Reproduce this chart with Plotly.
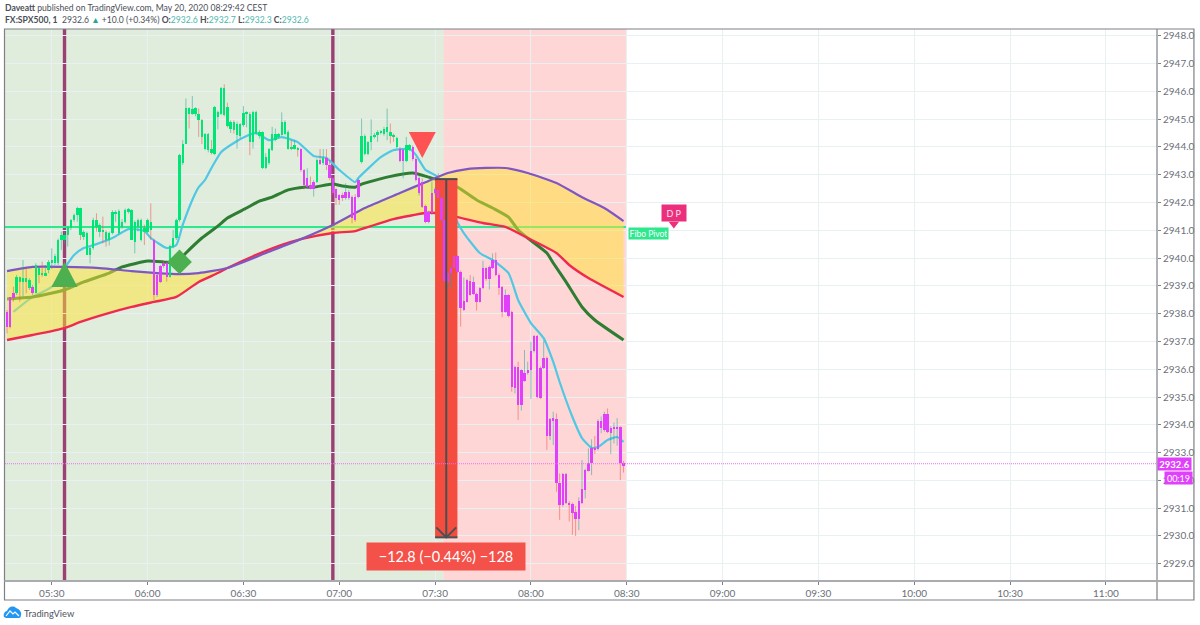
import pandas as pd
import plotly.graph_objects as go

# candle values, one minute per entry starting at 05:16
body_top = [
    2938.07, 2938.59, 2938.73, 2939.33, 2939.33, 2939.27, 2939.27, 2939.21, 2938.97, 2939.75,
    2939.63, 2939.45, 2939.45, 2939.87, 2939.93, 2940.07, 2940.65, 2940.83, 2940.83, 2941.13,
    2941.37, 2941.55, 2941.81, 2941.79, 2940.95, 2940.91, 2940.35, 2941.37, 2941.37, 2941.19,
    2940.98, 2940.95, 2940.89, 2941.67, 2941.67, 2941.70, 2941.31, 2941.73, 2941.75, 2941.73,
    2941.31, 2941.37, 2941.37, 2941.07, 2941.37, 2941.31, 2940.65, 2939.39, 2939.71, 2939.83,
    2939.81, 2940.43, 2940.71, 2941.37, 2943.70, 2944.12, 2945.38, 2945.38, 2945.35, 2945.38,
    2945.20, 2944.96, 2944.46, 2944.46, 2943.91, 2945.42, 2945.26, 2946.10, 2946.10, 2945.42,
    2944.90, 2944.90, 2944.84, 2944.81, 2945.23, 2945.23, 2945.20, 2945.26, 2945.26, 2944.54,
    2944.52, 2943.62, 2943.91, 2944.48, 2944.46, 2944.46, 2944.90, 2944.90, 2944.54, 2944.00,
    2944.06, 2943.94, 2943.91, 2943.17, 2942.87, 2942.63, 2942.75, 2943.53, 2943.53, 2943.61,
    2943.59, 2943.35, 2942.87, 2942.47, 2942.27, 2942.27, 2942.39, 2942.39, 2942.21, 2942.21,
    2942.81, 2944.39, 2944.39, 2944.18, 2944.39, 2944.42, 2944.54, 2944.54, 2944.66, 2944.72,
    2944.54, 2944.42, 2944.33, 2943.94, 2943.88, 2944.06, 2944.06, 2943.98, 2943.58, 2942.87,
    2942.75, 2941.87, 2941.64, 2942.33, 2942.47, 2942.45, 2942.15, 2941.37, 2939.45, 2939.63,
    2940.07, 2940.07, 2939.51, 2938.45, 2939.21, 2939.18, 2939.15, 2938.71, 2938.91, 2939.63,
    2939.63, 2939.69, 2939.93, 2939.93, 2939.39, 2938.97, 2938.67, 2938.67, 2938.07, 2936.09,
    2936.09, 2935.97, 2935.85, 2935.97, 2936.67, 2937.19, 2937.19, 2936.06, 2936.41, 2936.41,
    2934.20, 2934.24, 2934.21, 2931.89, 2932.23, 2932.23, 2931.20, 2931.15, 2930.85, 2931.27,
    2931.68, 2932.38, 2932.61, 2933.15, 2933.15, 2934.15, 2934.15, 2934.39, 2934.39, 2933.90,
    2933.90, 2933.91, 2933.91, 2932.61,
]
body_bottom = [
    2937.53, 2937.53, 2938.55, 2938.73, 2939.15, 2939.15, 2939.15, 2938.91, 2938.73, 2938.73,
    2939.39, 2939.39, 2939.35, 2939.57, 2939.81, 2939.81, 2939.81, 2940.65, 2940.65, 2940.83,
    2941.07, 2941.37, 2941.55, 2940.83, 2940.77, 2940.11, 2940.11, 2940.35, 2941.13, 2940.95,
    2940.95, 2940.65, 2940.65, 2940.91, 2941.61, 2940.91, 2941.13, 2941.31, 2941.67, 2940.65,
    2940.59, 2941.13, 2940.65, 2940.95, 2940.95, 2941.01, 2938.67, 2938.67, 2939.15, 2939.71,
    2939.33, 2939.30, 2940.41, 2940.71, 2941.37, 2943.41, 2944.12, 2945.20, 2945.20, 2945.20,
    2944.96, 2944.36, 2943.94, 2943.88, 2943.77, 2943.73, 2945.08, 2945.20, 2945.14, 2944.75,
    2944.66, 2944.60, 2944.42, 2944.39, 2944.78, 2945.20, 2944.18, 2944.18, 2944.48, 2944.39,
    2943.23, 2943.23, 2943.41, 2943.88, 2944.24, 2944.36, 2944.42, 2944.48, 2943.94, 2943.94,
    2943.94, 2943.90, 2943.17, 2942.63, 2942.57, 2942.47, 2942.47, 2942.75, 2943.37, 2943.41,
    2943.35, 2942.87, 2942.33, 2942.15, 2942.09, 2942.15, 2942.15, 2942.15, 2941.43, 2941.37,
    2942.21, 2943.47, 2943.76, 2943.76, 2944.18, 2944.36, 2944.42, 2944.51, 2944.48, 2944.54,
    2944.39, 2944.36, 2944.00, 2943.50, 2943.50, 2943.50, 2943.88, 2943.58, 2942.81, 2942.33,
    2941.85, 2941.31, 2941.31, 2941.61, 2942.33, 2942.15, 2941.37, 2939.17, 2939.15, 2939.45,
    2939.63, 2939.51, 2938.19, 2938.13, 2938.43, 2938.67, 2938.71, 2938.43, 2938.43, 2938.91,
    2939.23, 2939.23, 2939.63, 2939.39, 2938.91, 2938.07, 2938.07, 2937.91, 2935.37, 2935.31,
    2934.71, 2934.71, 2935.58, 2935.85, 2935.97, 2936.65, 2935.01, 2934.98, 2936.03, 2933.60,
    2933.60, 2934.17, 2931.89, 2931.11, 2931.11, 2931.18, 2931.11, 2930.82, 2930.60, 2930.60,
    2931.18, 2931.65, 2932.35, 2932.61, 2933.12, 2933.12, 2933.87, 2933.81, 2933.75, 2933.72,
    2933.87, 2933.87, 2932.61, 2932.55,
]
highs = [
    2938.13, 2938.59, 2938.97, 2939.39, 2939.33, 2939.93, 2939.63, 2939.27, 2939.03, 2939.81,
    2939.63, 2939.87, 2939.75, 2939.93, 2940.35, 2940.15, 2940.70, 2940.95, 2940.95, 2941.15,
    2941.40, 2941.60, 2941.85, 2941.81, 2941.00, 2940.95, 2940.40, 2941.45, 2941.61, 2941.25,
    2941.49, 2941.00, 2940.95, 2941.72, 2941.72, 2941.75, 2941.40, 2941.78, 2941.80, 2941.75,
    2941.35, 2941.42, 2941.42, 2941.20, 2941.42, 2941.97, 2940.70, 2939.45, 2939.75, 2939.90,
    2939.85, 2940.48, 2941.01, 2941.42, 2943.75, 2944.24, 2945.74, 2945.42, 2945.83, 2945.42,
    2945.38, 2945.00, 2944.50, 2944.50, 2944.24, 2945.47, 2945.30, 2946.15, 2946.25, 2945.59,
    2944.95, 2944.95, 2944.90, 2944.85, 2945.47, 2945.28, 2945.25, 2945.30, 2945.30, 2944.60,
    2944.55, 2943.77, 2943.95, 2944.72, 2944.66, 2944.50, 2945.24, 2944.95, 2944.60, 2944.24,
    2944.24, 2944.00, 2943.95, 2943.20, 2943.23, 2942.93, 2942.80, 2943.58, 2943.92, 2943.92,
    2943.92, 2943.53, 2942.90, 2942.50, 2942.30, 2942.35, 2942.69, 2942.45, 2942.25, 2942.30,
    2942.85, 2945.02, 2944.45, 2944.20, 2944.99, 2944.50, 2944.60, 2944.60, 2944.72, 2945.38,
    2944.84, 2944.48, 2944.36, 2944.00, 2943.94, 2944.36, 2944.10, 2944.05, 2943.62, 2942.95,
    2942.87, 2941.92, 2941.70, 2942.75, 2942.55, 2943.05, 2942.20, 2941.40, 2939.50, 2939.70,
    2940.10, 2940.10, 2939.55, 2939.30, 2939.25, 2939.39, 2939.33, 2938.75, 2938.95, 2939.90,
    2939.67, 2939.73, 2940.17, 2940.20, 2939.45, 2939.00, 2938.87, 2938.70, 2938.10, 2936.13,
    2936.27, 2936.00, 2936.69, 2936.27, 2936.99, 2937.23, 2937.23, 2936.10, 2937.03, 2936.45,
    2934.24, 2934.47, 2934.41, 2932.25, 2932.27, 2932.27, 2931.25, 2931.20, 2931.08, 2931.39,
    2932.73, 2932.42, 2933.15, 2933.48, 2933.60, 2934.20, 2934.30, 2934.47, 2934.59, 2933.95,
    2934.08, 2934.24, 2933.95, 2932.70,
]
lows = [
    2937.29, 2937.47, 2938.43, 2938.67, 2938.43, 2938.61, 2938.73, 2938.85, 2938.67, 2938.73,
    2939.09, 2939.33, 2939.35, 2939.45, 2939.60, 2939.75, 2939.75, 2940.29, 2940.50, 2940.41,
    2941.00, 2941.30, 2941.31, 2940.65, 2940.65, 2940.11, 2939.81, 2940.30, 2940.95, 2940.75,
    2940.53, 2940.41, 2940.45, 2940.85, 2941.30, 2940.85, 2941.05, 2941.25, 2941.60, 2940.65,
    2940.17, 2940.95, 2940.60, 2940.47, 2940.90, 2940.65, 2938.49, 2938.60, 2939.10, 2939.65,
    2939.15, 2939.30, 2940.35, 2940.65, 2941.30, 2943.35, 2944.10, 2944.66, 2945.15, 2945.10,
    2944.36, 2944.10, 2943.88, 2943.80, 2943.72, 2943.70, 2944.63, 2945.15, 2945.10, 2944.70,
    2944.50, 2944.48, 2943.94, 2944.30, 2944.72, 2944.70, 2943.70, 2943.94, 2944.42, 2944.30,
    2943.20, 2943.20, 2943.35, 2943.85, 2944.20, 2944.30, 2944.40, 2944.42, 2943.90, 2943.88,
    2943.90, 2943.65, 2943.10, 2942.47, 2942.50, 2942.47, 2942.21, 2942.70, 2943.35, 2943.35,
    2943.17, 2942.80, 2942.27, 2941.91, 2941.91, 2942.05, 2942.10, 2942.10, 2941.25, 2941.30,
    2942.15, 2943.40, 2943.70, 2943.70, 2943.88, 2944.30, 2944.18, 2944.45, 2944.40, 2944.24,
    2944.12, 2944.18, 2943.95, 2943.45, 2942.87, 2943.45, 2943.85, 2943.50, 2942.75, 2942.25,
    2941.80, 2941.25, 2941.25, 2941.55, 2942.25, 2942.10, 2941.30, 2939.10, 2938.91, 2938.91,
    2939.60, 2939.45, 2937.53, 2938.10, 2938.40, 2938.65, 2938.67, 2938.11, 2938.40, 2938.88,
    2939.18, 2938.87, 2939.60, 2939.35, 2938.67, 2937.87, 2938.03, 2937.87, 2935.19, 2935.13,
    2934.17, 2934.51, 2935.55, 2935.80, 2934.93, 2936.60, 2934.95, 2934.93, 2936.00, 2933.10,
    2933.45, 2933.27, 2931.59, 2930.58, 2931.05, 2931.15, 2930.52, 2930.04, 2930.00, 2930.21,
    2931.15, 2931.35, 2932.32, 2932.19, 2932.95, 2933.08, 2933.70, 2933.75, 2933.70, 2932.95,
    2933.33, 2933.25, 2932.01, 2932.28,
]
# T = teal wick (real up candle), R = red wick (real down candle)
wick_dirs = (
    "RRRTRTRTTT" "RRTTTTTTTT" "TTTRTTTTRT" "RRTTTTTTTT" "TTTRTRRTTR"
    "RTTTTTTRTT" "RRTTRTTTRR" "TRTTTTRTTT" "TTTTTTTTTR" "TRRRTRTTRT"
    "RRRRRRTTRR" "TTTTTTTTTT" "RRTRTTTRRT" "RRTTTRTRTT" "TRRTTRTRTT"
    "RTTRRRTRRT" "RTTTTTRRTR" "TTRRTTRRRT" "TTTTRTTTRT" "TTRR"
)
# g = green body, m = magenta body
body_states = (
    "mmmgggggmg" "gggggggggg" "gggggggggg" "gggggggggg" "ggggggmmmm"
    "mggggggggg" "gggggggggg" "gggggggggg" "gggggggggg" "ggmmmmmgmg"
    "mmmmmmmmmm" "mggggggggg" "gggmmggmmm" "mmmmmmmmmm" "mmmmmmmmmm"
    "mmmmmmmmmm" "mmmmmmmmmm" "mmmmmmmmmm" "mmmmmmmmmm" "mmmm"
)

# indicator lines, read at these candle numbers
blue_idx = [2, 8, 14, 18, 21, 24, 28, 33, 38, 43, 45, 50, 53, 55, 58, 60, 62, 64, 67, 71, 75, 78, 82, 86,
            91, 96, 100, 104, 109, 110, 117, 121, 126, 128, 131, 135, 141, 143, 148, 152, 157, 160, 164,
            168, 171, 173, 177, 180, 183, 185, 188, 191, 193]
blue_vals = [2938.06, 2938.60, 2938.96, 2939.64, 2940.11, 2940.36, 2940.50, 2940.72, 2941.04, 2940.97,
             2940.72, 2940.36, 2940.47, 2941.19, 2942.09, 2942.55, 2942.81, 2943.24, 2943.81, 2944.14,
             2944.39, 2944.50, 2944.24, 2944.35, 2944.17, 2943.67, 2943.60, 2943.17, 2942.73, 2942.88,
             2943.63, 2943.88, 2943.92, 2943.71, 2943.17, 2942.91, 2941.29, 2940.90, 2940.18, 2939.93,
             2939.46, 2938.49, 2937.66, 2937.12, 2936.26, 2935.54, 2934.28, 2933.52, 2933.17, 2933.20,
             2933.45, 2933.56, 2933.38]
dark_green_idx = [0, 8, 18, 24, 32, 36, 44, 49, 53, 56, 61, 66, 69, 75, 79, 83, 88, 93, 96, 102, 105, 109,
                  111, 119, 127, 132, 141, 147, 152, 157, 160, 163, 169, 171, 175, 180, 184, 193]
dark_green_vals = [2938.53, 2938.60, 2938.85, 2939.14, 2939.46, 2939.68, 2939.89, 2939.86, 2939.82, 2940.18,
                   2940.72, 2941.15, 2941.44, 2941.80, 2942.05, 2942.19, 2942.45, 2942.55, 2942.55, 2942.66,
                   2942.59, 2942.55, 2942.66, 2942.91, 2943.06, 2942.91, 2942.55, 2942.09, 2941.80, 2941.47,
                   2941.01, 2940.72, 2940.18, 2939.82, 2939.14, 2938.24, 2937.77, 2937.05]
red_idx = [0, 8, 18, 23, 31, 39, 46, 53, 60, 66, 69, 78, 86, 92, 102, 109, 112, 121, 131, 134, 141, 149,
           156, 163, 172, 176, 182, 193]
red_vals = [2937.05, 2937.23, 2937.48, 2937.70, 2937.99, 2938.24, 2938.42, 2938.60, 2939.14, 2939.46,
            2939.64, 2940.11, 2940.47, 2940.68, 2940.90, 2940.97, 2941.08, 2941.40, 2941.62, 2941.62,
            2941.47, 2941.26, 2941.12, 2940.72, 2940.18, 2939.75, 2939.28, 2938.60]
purple_idx = [0, 8, 18, 29, 39, 47, 54, 60, 69, 81, 92, 102, 112, 123, 131, 138, 144, 150, 156, 163, 172,
              180, 187, 193]
purple_vals = [2939.53, 2939.68, 2939.68, 2939.64, 2939.53, 2939.46, 2939.42, 2939.46, 2939.64, 2940.18,
               2940.68, 2941.19, 2941.80, 2942.34, 2942.73, 2943.06, 2943.20, 2943.24, 2943.24, 2943.06,
               2942.70, 2942.19, 2941.80, 2941.33]

start_time = "2020-05-20 05:16"
x_start = "2020-05-20 05:15:22"
x_end = "2020-05-20 11:16:00"
green_zone_end = "2020-05-20 07:32:40"
pink_zone_end = "2020-05-20 08:29:45"
signal_lines = ["2020-05-20 05:34", "2020-05-20 06:58"]
fibo_pivot = 2941.12
last_price = 2932.6
measure_start = "2020-05-20 07:30"
measure_end = "2020-05-20 07:37"
measure_mid = "2020-05-20 07:33:30"
measure_top = 2942.84
measure_bottom = 2929.95

GREEN = "#00e676"
MAGENTA = "#e040fb"
TEAL_WICK = "rgba(38,166,154,0.55)"
RED_WICK = "rgba(239,83,80,0.55)"
AXIS_TEXT = "#6b6f78"
FRAME = "#7d8087"
FONT = "Lato"


def px(x):
    # page pixel to paper x
    return (x - 5) / 1154


def py(y):
    # page pixel to paper y
    return (581 - y) / 552


minutes = pd.date_range(start_time, periods=len(highs), freq="min")

fig = go.Figure()

# lines that sit under the yellow band
fig.add_trace(go.Scatter(x=[x_start, pink_zone_end], y=[fibo_pivot, fibo_pivot], mode="lines",
                         line=dict(color="#2ee88e", width=2), zorder=0))
fig.add_trace(go.Scatter(x=minutes[blue_idx], y=blue_vals, mode="lines",
                         line=dict(color="#4fc8e4", width=2.2, shape="spline", smoothing=0.5), zorder=0))
fig.add_trace(go.Scatter(x=minutes[dark_green_idx], y=dark_green_vals, mode="lines",
                         line=dict(color="#2e7d32", width=3, shape="spline", smoothing=0.5), zorder=0))

# yellow band between red and purple
fig.add_trace(go.Scatter(x=minutes[red_idx], y=red_vals, mode="lines",
                         line=dict(color="#f0294f", width=2.4, shape="spline", smoothing=0.5), zorder=1))
fig.add_trace(go.Scatter(x=minutes[purple_idx], y=purple_vals, mode="lines", fill="tonexty",
                         fillcolor="rgba(255,225,50,0.5)",
                         line=dict(color="#7e57c2", width=2.2, shape="spline", smoothing=0.5), zorder=1))

# measure block goes over the lines but under the candles
fig.add_trace(go.Scatter(x=[measure_start, measure_end, measure_end, measure_start, measure_start],
                         y=[measure_top, measure_top, measure_bottom, measure_bottom, measure_top],
                         mode="lines", fill="toself", fillcolor="#f44d3f", line=dict(width=0), zorder=2))

# wicks, then bodies
for flag, color in (("T", TEAL_WICK), ("R", RED_WICK)):
    wick_x, wick_y = [], []
    for i, d in enumerate(wick_dirs):
        if d == flag:
            wick_x += [minutes[i], minutes[i], None]
            wick_y += [lows[i], highs[i], None]
    fig.add_trace(go.Scatter(x=wick_x, y=wick_y, mode="lines", line=dict(color=color, width=1), zorder=3))

fig.add_trace(go.Bar(x=minutes, y=[t - b for t, b in zip(body_top, body_bottom)], base=body_bottom,
                     width=45000, marker=dict(color=[GREEN if s == "g" else MAGENTA for s in body_states],
                                              line=dict(width=0)), zorder=4))

# measure arrow
fig.add_trace(go.Scatter(x=[measure_start, measure_end], y=[measure_top, measure_top], mode="lines",
                         line=dict(color="#4a5052", width=2), zorder=5))
fig.add_trace(go.Scatter(x=[measure_mid, measure_mid], y=[measure_top, measure_bottom], mode="lines",
                         line=dict(color="#4a5052", width=2), zorder=5))
fig.add_trace(go.Scatter(x=[measure_start, measure_end], y=[measure_bottom, measure_bottom], mode="lines",
                         line=dict(color="#4a5052", width=2), zorder=5))

# diamond and the D P pointer
fig.add_trace(go.Scatter(x=["2020-05-20 06:10"], y=[2939.86], mode="markers",
                         marker=dict(symbol="diamond", size=19, color="#4caf50"), zorder=6))
fig.add_trace(go.Scatter(x=["2020-05-20 08:44:45"], y=[2941.22], mode="markers",
                         marker=dict(symbol="triangle-down", size=9, color="#ec2f7c"), zorder=6))

shapes = [
    # session backgrounds over the grid
    dict(type="rect", xref="x", yref="paper", x0=x_start, x1=green_zone_end, y0=0, y1=1, layer="between",
         fillcolor="rgba(67,140,40,0.16)", line=dict(width=0)),
    dict(type="rect", xref="x", yref="paper", x0=green_zone_end, x1=pink_zone_end, y0=0, y1=1, layer="between",
         fillcolor="rgba(255,82,82,0.24)", line=dict(width=0)),
    # last price dotted line
    dict(type="line", xref="paper", yref="y", x0=0, x1=1, y0=last_price, y1=last_price,
         line=dict(color="#f06cff", width=1, dash="1px,1px")),
    # triangle signals
    dict(type="path", xref="x", yref="y", xsizemode="pixel", ysizemode="pixel",
         xanchor="2020-05-20 05:34", yanchor=2938.96, path="M-13,0 L13,0 L0,25 Z",
         fillcolor="#4caf50", line=dict(width=0)),
    dict(type="path", xref="x", yref="y", xsizemode="pixel", ysizemode="pixel",
         xanchor="2020-05-20 07:26", yanchor=2944.53, path="M-13.5,0 L13.5,0 L0,-26 Z",
         fillcolor="#ff5252", line=dict(width=0)),
    # arrow head of the measure
    dict(type="path", xref="x", yref="y", xsizemode="pixel", ysizemode="pixel",
         xanchor=measure_mid, yanchor=measure_bottom, path="M-10,10 L0,0 L10,10",
         line=dict(color="#4a5052", width=2)),
    # frame around chart and axes
    dict(type="rect", xref="paper", yref="paper", x0=px(4.5), x1=px(1196), y0=py(600), y1=py(29),
         line=dict(color=FRAME, width=1.2)),
    dict(type="line", xref="paper", yref="paper", x0=px(1159), x1=px(1159), y0=py(600), y1=py(29),
         line=dict(color=FRAME, width=1.2)),
    dict(type="line", xref="paper", yref="paper", x0=px(4.5), x1=px(1196), y0=py(581), y1=py(581),
         line=dict(color="#a9abaf", width=1.8)),
    # TradingView logo
    dict(type="path", xref="paper", yref="paper", xsizemode="pixel", ysizemode="pixel",
         xanchor=px(4), yanchor=py(618),
         path="M0,1 C-1,4 1,7 3,7 C4,11 9,13 12,10 C15,9 18,6 17,3 C17,1 16,0 15,0 L2,0 Z",
         fillcolor="#2196f3", line=dict(width=0)),
    dict(type="path", xref="paper", yref="paper", xsizemode="pixel", ysizemode="pixel",
         xanchor=px(4), yanchor=py(618), path="M2,2 L6,7 L9,4 L11,6 L15,2",
         line=dict(color="#ffffff", width=1.2)),
]
for t in signal_lines:
    shapes.append(dict(type="line", xref="x", yref="paper", x0=t, x1=t, y0=0, y1=1, layer="between",
                       line=dict(color="#9b3f75", width=3.4)))


def label(text, x, y, size=10, color="#4a4e57", xref="paper", yref="paper", xanchor="left", **kw):
    return dict(text=text, x=x, y=y, xref=xref, yref=yref, xanchor=xanchor, yanchor="middle",
                showarrow=False, font=dict(family=FONT, size=size, color=color), **kw)


teal = "#4db6ac"
annotations = [
    label("<b>Daveatt</b> published on TradingView.com, May 20, 2020 08:29:42 CEST", px(3), py(8), size=8.6),
    label("<b>FX:SPX500, 1</b>  2932.6 <span style='color:#26a69a'>▲</span> +10.0 (+0.34%) "
          f"<b>O:</b><span style='color:{teal}'>2932.6</span> <b>H:</b><span style='color:{teal}'>2932.7</span> "
          f"<b>L:</b><span style='color:{teal}'>2932.3</span> <b>C:</b><span style='color:{teal}'>2932.6</span>",
          px(3), py(19.5), size=8.6),
    label("TradingView", px(22), py(613), size=9.3, color="#50535e"),
    # measure result
    label("−12.8 (−0.44%) −128", measure_mid, 2929.27, size=14.5, color="#ffffff", xref="x", yref="y",
          xanchor="center", bgcolor="#f4514a", width=156, height=25, align="center"),
    # right of the session
    label("Fibo Pivot", "2020-05-20 08:36:45", 2940.90, size=8.5, color="#ffffff", xref="x", yref="y",
          xanchor="center", bgcolor="#2ee88e", width=37, height=9, align="center"),
    label("D P", "2020-05-20 08:44:45", 2941.62, size=9, color="#ffe4ef", xref="x", yref="y",
          xanchor="center", bgcolor="#ec2f7c", width=22, height=14, align="center"),
    # price scale tags
    label("<b>2932.6</b>", px(1159.5), last_price, size=9.5, color="#ffffff", yref="y", bgcolor=MAGENTA,
          width=31, height=10, align="center"),
    label("00:19", px(1166), 2932.07, size=9, color="#ffffff", yref="y", bgcolor=MAGENTA,
          width=25, height=10, align="center"),
]

fig.update_layout(
    width=1200,
    height=625,
    margin=dict(l=5, r=41, t=29, b=44),
    paper_bgcolor="white",
    plot_bgcolor="white",
    showlegend=False,
    hovermode=False,
    bargap=0,
    shapes=shapes,
    annotations=annotations,
    xaxis=dict(
        type="date",
        range=[x_start, x_end],
        tick0="2020-05-20 05:30",
        dtick=1800000,
        tickformat="%H:%M",
        ticks="outside",
        ticklen=3,
        tickcolor=FRAME,
        tickfont=dict(family=FONT, size=10, color=AXIS_TEXT),
        gridcolor="#e8f0f4",
        gridwidth=1,
        zeroline=False,
        showline=False,
    ),
    yaxis=dict(
        side="right",
        range=[2928.38, 2948.24],
        dtick=1,
        tick0=2929,
        tickformat=".1f",
        ticks="outside",
        ticklen=3,
        tickcolor=FRAME,
        tickfont=dict(family=FONT, size=10, color=AXIS_TEXT),
        gridcolor="#e8f0f4",
        gridwidth=1,
        zeroline=False,
        showline=False,
    ),
)

fig.write_html("out.html", config=dict(displayModeBar=False), post_script="document.body.style.margin='0';")
